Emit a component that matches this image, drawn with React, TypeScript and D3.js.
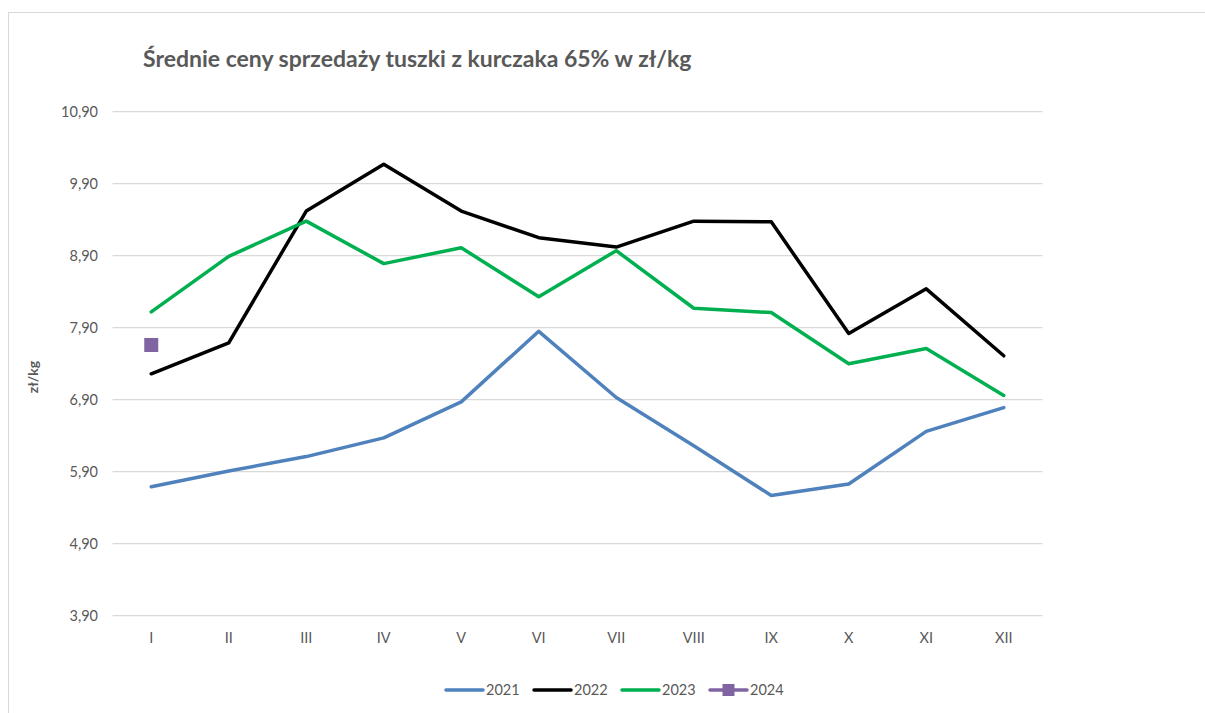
import React from "react";
import * as d3 from "d3";

const months = ["I", "II", "III", "IV", "V", "VI", "VII", "VIII", "IX", "X", "XI", "XII"];
const v2021 = [5.69, 5.91, 6.11, 6.37, 6.87, 7.85, 6.93, 6.26, 5.57, 5.73, 6.46, 6.79];
const v2022 = [7.26, 7.69, 9.52, 10.17, 9.52, 9.15, 9.02, 9.38, 9.37, 7.82, 8.44, 7.51];
const v2023 = [8.12, 8.89, 9.38, 8.79, 9.01, 8.33, 8.97, 8.17, 8.11, 7.40, 7.61, 6.96];
const v2024 = [7.66];
const yTicks = [3.9, 4.9, 5.9, 6.9, 7.9, 8.9, 9.9, 10.9];

const series = [
  { name: "2021", values: v2021, color: "#4f81bd", marker: false },
  { name: "2022", values: v2022, color: "#000000", marker: false },
  { name: "2023", values: v2023, color: "#00b050", marker: false },
  { name: "2024", values: v2024, color: "#8064a2", marker: true },
];

const W = 1205;
const H = 713;
const FONT = "Lato, 'Open Sans', sans-serif";

export default function App() {
  const x = d3.scaleBand<string>().domain(months).range([112.5, 1042.5]);
  const y = d3.scaleLinear().domain([3.9, 10.9]).range([615.7, 111.7]);
  const cx = (m: string) => (x(m) as number) + x.bandwidth() / 2;
  const line = d3
    .line<number>()
    .x((_, i) => cx(months[i]))
    .y((d) => y(d));

  const fmt = (v: number) => v.toFixed(2).replace(".", ",");

  const legendX = [446, 534, 622, 710];

  return (
    <svg
      width={W}
      height={H}
      style={{ position: "absolute", left: 0, top: 0, background: "#fff" }}
      fontFamily={FONT}
    >
      <rect x={8.5} y={12.5} width={W} height={H} fill="#fff" stroke="#d9d9d9" strokeWidth={1} />
      <text x={143} y={67} fontSize={23} fontWeight="bold" fill="#595959">
        Średnie ceny sprzedaży tuszki z kurczaka 65% w zł/kg
      </text>
      {yTicks.map((t) => (
        <g key={t}>
          <line x1={112.5} x2={1042.5} y1={y(t)} y2={y(t)} stroke="#d9d9d9" strokeWidth={1.2} />
          <text x={98} y={y(t)} dy="0.35em" textAnchor="end" fontSize={14.5} fill="#595959">
            {fmt(t)}
          </text>
        </g>
      ))}
      {months.map((m) => (
        <text key={m} x={cx(m)} y={638} dy="0.35em" textAnchor="middle" fontSize={14.5} fill="#595959">
          {m}
        </text>
      ))}
      <text
        transform={`translate(33, 377) rotate(-90)`}
        textAnchor="middle"
        dy="0.35em"
        fontSize={14}
        fontWeight="bold"
        fill="#595959"
      >
        zł/kg
      </text>
      {series.map((s) =>
        s.marker ? (
          <g key={s.name}>
            {s.values.map((v, i) => (
              <rect key={i} x={cx(months[i]) - 7} y={y(v) - 7} width={14} height={14} fill={s.color} />
            ))}
          </g>
        ) : (
          <path
            key={s.name}
            d={line(s.values) || ""}
            fill="none"
            stroke={s.color}
            strokeWidth={3.5}
            strokeLinejoin="round"
            strokeLinecap="round"
          />
        )
      )}
      {series.map((s, i) => (
        <g key={s.name} transform={`translate(${legendX[i]}, 690)`}>
          <line x1={0} x2={37} y1={0} y2={0} stroke={s.color} strokeWidth={3.5} strokeLinecap="round" />
          {s.marker && <rect x={12.5} y={-6} width={12} height={12} fill={s.color} />}
          <text x={40} y={0} dy="0.35em" fontSize={14.5} fill="#595959">
            {s.name}
          </text>
        </g>
      ))}
    </svg>
  );
}
